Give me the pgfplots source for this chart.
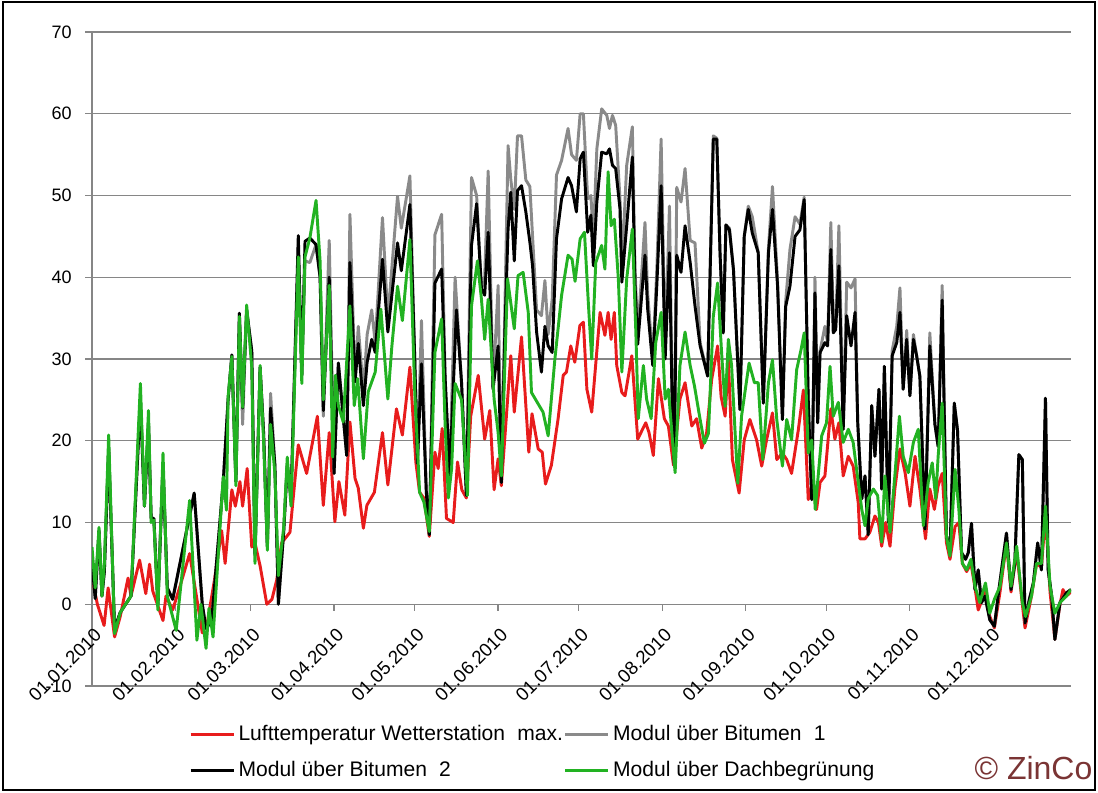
\documentclass[border=0pt]{standalone}
\usepackage{fontspec}
\setmainfont{Liberation Sans}
\usepackage{pgfplots}
\pgfplotsset{compat=1.18}
\definecolor{cred}{RGB}{232,28,28}
\definecolor{cgray}{RGB}{138,138,138}
\definecolor{cgreen}{RGB}{34,178,34}
\definecolor{cgrid}{RGB}{134,134,134}
\definecolor{zinco}{RGB}{122,52,52}
\begin{document}
\begin{tikzpicture}
\useasboundingbox (0,0) rectangle (823.5pt,594pt);
\draw[black, line width=1.2pt] (2.25pt,1.5pt) rectangle (821.25pt,592.5pt);
\begin{axis}[
  at={(69pt,79.5pt)}, anchor=south west,
  scale only axis, width=734.25pt, height=490.5pt,
  xmin=0, xmax=364, ymin=-10, ymax=70,
  axis x line=middle, axis y line=left,
  hide obscured x ticks=false, hide obscured y ticks=false,
  x axis line style={-, cgrid, line width=1pt},
  y axis line style={-, cgrid, line width=1pt},
  ytick={-10,0,10,20,30,40,50,60,70},
  xtick={0,31,59,90,120,151,181,212,243,273,304,334},
  xticklabels={01.01.2010,01.02.2010,01.03.2010,01.04.2010,01.05.2010,01.06.2010,01.07.2010,01.08.2010,01.09.2010,01.10.2010,01.11.2010,01.12.2010},
  ymajorgrids, grid style={cgrid, line width=1pt},
  tick align=outside, major tick length=5pt,
  tick style={cgrid, line width=1pt},
  /pgf/number format/assume math mode=true,
  x tick label style={xshift=1pt, yshift=-12pt, rotate=45, anchor=north east, inner sep=0pt, font=\fontsize{14}{16}\selectfont},
  y tick label style={xshift=-10pt, anchor=east, inner sep=0pt, font=\fontsize{13.5}{16}\selectfont},
  legend columns=2,
  legend style={draw=none, fill=none, at={(0.09908,-0.102)}, anchor=west, inner sep=0pt, row sep=11.5pt,
    font=\fontsize{15.8}{18}\selectfont,
    nodes={inner sep=0pt, text height=12pt, text depth=3.5pt},
    /tikz/every odd column/.append style={column sep=2.5pt}},
  legend cell align=left,
  legend image code/.code={\draw[#1] (0pt,0pt) -- (32.25pt,0pt);},
  every axis plot/.append style={line width=2.2pt, line join=round},
]
\addplot[cred] coordinates {
(0,3.3) (2,0) (4.5,-2.6) (6,2) (8.4,-4) (10.5,-1.5) (13.4,3.2) (14.5,1) (17.7,5.4) (20,1.3) (21.4,4.9) (22.6,1.6) (26.4,-2) (27.5,1) (30,-0.7) (33,2.5) (36.3,6.2) (41,-3.5) (43,-2) (45.5,2.9) (48.2,9) (49.5,5) (52,14) (53.3,12) (55,15) (56,12) (57.7,16.6) (59.4,7) (60.6,7.5) (62.5,4.7) (65,0) (66.9,0.6) (68.7,3) (70.5,7.5) (73.6,8.8) (76.7,19.5) (79.8,16) (83.8,23) (86,12.1) (88.2,21) (90.3,10.1) (91.8,15) (94,10.9) (95.9,22.3) (97.8,15.4) (99,14.2) (100.9,9.3) (102.2,12.1) (105,13.7) (108,21) (110,14.6) (113.2,23.9) (115.4,20.7) (118.2,29) (120.4,17.4) (121.8,13.7) (123.4,13) (125.4,8.3) (127.5,18.6) (128.7,16.6) (130.2,21.5) (131.8,10.5) (134.3,10) (135.9,17.4) (137.5,14) (139.2,13) (140.8,23) (143.6,28) (146,20.2) (147.9,23.7) (149.5,14) (151,17.8) (152.2,14.5) (155.7,30.4) (157,23.5) (159.7,32.7) (162.4,18.6) (163.6,23.3) (165.9,19) (167.4,18.6) (168.6,14.7) (170.8,17) (173.3,22.7) (175.2,28) (176.4,28.4) (178,31.6) (179.5,29.6) (181.4,34.1) (182.7,34.5) (184,26.3) (185.8,23.5) (188.9,35.7) (190.7,32.9) (191.9,35.7) (193,32.4) (194.2,35.7) (195.1,29.2) (197,25.9) (198.2,25.5) (200.7,30.4) (202.9,20.2) (205.9,22.2) (207.1,21) (208.7,18.2) (210.6,27.6) (212.8,22.7) (214.3,21.8) (216.2,17) (218.6,25.1) (220.5,27.1) (223,21.8) (224.8,22.7) (226.7,19.1) (228.5,20.9) (230.4,27.5) (232.6,31.6) (233.9,25.4) (235.4,23) (236.6,29.9) (238.1,17.7) (240.6,13.6) (242.5,20.1) (244.6,22.6) (247.1,20.1) (249,16.9) (250.8,20.1) (253,23.4) (254.6,17.7) (256.7,18.5) (258.3,17.7) (260.1,16) (262.6,21.3) (264.5,26.2) (266.3,12.8) (267.8,14.8) (269.4,11.6) (270.7,14.9) (272.5,15.7) (274.7,23.9) (276.2,20.2) (277.7,22.2) (279.3,15.7) (281.2,18.1) (283,16.9) (284.9,12.4) (285.5,8) (287.4,8) (289.2,8.8) (291.1,10.8) (292.4,10) (293.6,7.1) (295.1,10) (296.7,7.1) (298.5,14.1) (300.4,19) (302.3,16.1) (304.1,12) (306,18.1) (307.8,14.1) (309.9,8) (311.5,14.1) (313.2,11.6) (314.6,14.5) (316.1,16) (317.7,7.5) (319,5.5) (320.9,9.5) (322.3,10) (323.6,5) (325.2,4) (326.8,5) (328.3,2) (329.5,-0.7) (332,1.5) (333.8,-1.5) (335.5,-2.9) (337.6,1.5) (340,7.5) (341.7,1.5) (343.8,6.5) (345.9,0) (346.9,-2.9) (349.3,1) (351.2,5) (353,4.5) (354.5,11) (356.2,1.5) (358,-4.3) (359.9,0) (361,1.8) (362.3,1) (364,1.5)
};
\addlegendentry{\makebox[244pt][l]{Lufttemperatur Wetterstation\hspace{0.3em} max.}}
\addplot[cgray] coordinates {
(0,5) (1.2,0.7) (2.6,9) (3.7,1) (4.6,4) (6.2,19) (8.4,-3) (10.5,-1) (14.5,1) (18,25) (19.5,12) (21,22) (22,10.5) (23,10.5) (24.5,0) (26.4,17) (28,2) (30,0.6) (38,13.6) (41,0) (42.4,-3) (44.5,-2) (48.8,15) (50.6,25) (52,30.5) (53.5,15) (54.8,35.6) (56,22) (57.5,36) (59.4,31) (60.6,6) (62.5,29) (63.8,21) (65.2,7) (66.4,25.8) (68,17) (69.3,0) (71.3,9) (72.6,17) (74,13) (76.7,44) (78,28) (79.2,42) (81,41.8) (83.3,44) (84.8,40) (86,23) (88.2,44.5) (90,16) (91.6,29.5) (94.7,18.2) (95.9,47.7) (97.8,27.2) (99,34) (100.9,26) (102.3,33) (104,36) (105.3,32) (108,47.3) (110,35) (113.6,49.9) (115,46) (118.2,52.4) (120,30) (121,17.2) (122.5,34.7) (124.3,13.7) (125.4,8.5) (127.5,45.2) (130,47.7) (131.3,27.6) (133,15.8) (135,40) (137.4,27.1) (139.2,13.3) (141.1,52.2) (143,50) (144.8,38.6) (146,40) (147.3,53) (149.1,26.3) (151,39) (152.2,14.9) (153.5,36) (154.7,56.1) (155.7,52) (157,48.3) (158.2,57.3) (159.7,57.3) (161.3,51.9) (162.8,51.1) (163.8,45) (165.3,36) (167.1,35.3) (168.4,39.6) (169.6,33) (171.1,37.3) (172.7,52.5) (174.6,54.3) (177,58.2) (178.3,55) (180.1,54.3) (181.5,60) (182.7,60) (184.3,49.6) (185.5,50) (186.4,44.7) (187.7,55.7) (189.5,60.6) (191.4,59.8) (192.4,58.2) (193.5,59.8) (194.7,58.6) (196.3,49.6) (197,41) (198.8,53.7) (200.9,58.4) (201.9,41) (202.9,33) (205.6,46.7) (206.6,38) (208.5,30) (210,41) (211.6,56.9) (213.1,31) (214.7,48.7) (215.9,21) (216.5,17) (217.4,51) (219,49.2) (220.5,53.3) (222.4,44.5) (224.2,44.2) (226.1,32) (228.9,28) (231,57.3) (232.3,57) (233.5,43) (234.7,33.2) (235.7,46.4) (237,46) (238.5,41) (240.9,24) (242.5,45) (244,48.7) (245.5,47.4) (247.7,43) (249.6,24.6) (251.5,43.5) (253,51.1) (254.9,39.5) (256.7,22.6) (257.9,37) (259.5,43.4) (261.4,47.4) (263.2,46.5) (264.8,49.8) (266.3,25) (267.6,12.8) (268.8,40) (269.8,22.2) (270.7,31) (272.5,34) (273.5,32) (274.7,46.7) (275.6,35) (276.5,34) (277.7,46.3) (279.3,21.4) (280.6,39.4) (282.2,38.7) (283.7,39.8) (284.7,22.2) (286.2,12.9) (287.4,15.7) (288.6,8.5) (289.9,24.3) (291.1,18.1) (292.6,26.3) (293.6,14.1) (294.6,29.1) (296.1,10) (297.5,31) (299.2,34) (300.4,38.7) (301.6,26.3) (302.9,33.5) (304.1,25.5) (305.4,33) (306.6,30.4) (307.8,27.9) (309.7,9.2) (311.5,33.2) (313.4,22) (314.6,19.3) (316.1,39) (317.7,8.3) (319,6.3) (320.6,24.6) (321.8,21.3) (323.3,6.3) (324.8,5.5) (325.8,6.3) (327,9.9) (328.3,1.8) (329.5,4.2) (330.7,0.2) (332,1) (333.8,-1.9) (335.5,-2.7) (337.2,1.8) (340,8.7) (341.7,1.8) (343.1,5) (344.6,18.3) (345.9,17.7) (346.9,-2.3) (348.5,0.6) (350,2.6) (351.6,7.5) (353,4.2) (354.5,25.2) (355.5,4.2) (356.8,1) (358,-4.3) (359.9,0.2) (362.3,1.4) (364,1.8)
};
\addlegendentry{Modul über Bitumen\hspace{0.3em} 1}
\addplot[black] coordinates {
(0,5) (1.2,0.7) (2.6,9) (3.7,1) (4.6,4) (6.2,19) (8.4,-3) (10.5,-1) (14.5,1) (18,25) (19.5,12) (21,22) (22,10.5) (23,10.5) (24.5,0) (26.4,17) (28,2) (30,0.6) (38,13.6) (41,0) (42.4,-3) (44.5,-2) (48.8,15) (50.6,25) (52,30.5) (53.5,15) (54.8,35.6) (56,24) (57.5,36) (59.4,31) (60.6,6) (62.5,29) (63.8,21) (65.2,7) (66.4,24) (68,17) (69.3,0) (71.3,9) (72.6,17) (74,13) (76.7,45.1) (78,28) (79.2,44.4) (81,44.8) (83.3,44) (84.8,40) (86,23.7) (88.2,40) (90,16) (91.6,29.5) (94.7,18.2) (95.9,41.8) (97.8,27.2) (99,31.9) (100.9,24.3) (102.3,29.6) (104,32.4) (105.3,30.8) (108,42.2) (110,33.3) (113.6,44.2) (115,40.8) (118.2,48.9) (120,30) (121,17.2) (122.5,29.4) (124.3,13.7) (125.4,8.5) (127.5,39.3) (130,41) (131.3,27.6) (133,15.8) (135.5,36) (137.4,27.1) (139.2,13.3) (141.1,43.9) (143,49) (144.8,38.6) (146,37.8) (147.3,45.5) (149.1,26.3) (151,31.6) (152.2,14.9) (153.5,33.3) (154.7,45.9) (155.7,50.4) (157,42) (158.2,50.6) (159.7,51.2) (161.3,48) (162.8,44.3) (163.8,41.4) (165.3,33.3) (167.1,28.4) (168.4,34) (169.6,31.6) (171.1,30.8) (172.7,44.7) (174.6,49.6) (177,52.2) (178.3,51.2) (180.1,48) (181.5,54.5) (182.7,55.3) (184.3,45.5) (185.5,47.6) (186.4,41.4) (187.7,49.2) (189.5,55.3) (191.4,55.1) (192.4,55.7) (193.5,53.7) (194.7,53.3) (196.3,48.4) (197,39.4) (198.8,46.3) (200.9,54.7) (201.9,39) (202.9,31.8) (205.6,42.7) (206.6,36.1) (208.5,29.2) (210,39) (211.6,51.2) (213.1,30) (214.7,43) (215.9,21) (216.5,17) (217.4,42.7) (219,40.6) (220.5,46.3) (222.4,41.8) (224.2,36.5) (226.1,31.6) (228.9,27.9) (231,56.9) (232.3,56.9) (233.5,43) (234.7,33.2) (235.7,46.4) (237,45.8) (238.5,40.9) (240.9,23.8) (242.5,45) (244,48.3) (245.5,45.4) (247.7,43) (249.6,24.6) (251.5,43) (253,48.3) (254.9,38.9) (256.7,22.6) (257.9,36.4) (259.5,38.9) (261.4,45) (263.2,45.8) (264.8,49.5) (266.3,25) (267.6,12.8) (268.8,38.1) (269.8,22.2) (270.7,30.8) (272.5,32) (273.5,31.6) (274.7,43.4) (275.6,33.2) (276.5,33.6) (277.7,41.4) (279.3,21.4) (280.6,35.3) (282.2,31.6) (283.7,35.7) (284.7,22.2) (286.2,12.9) (287.4,15.7) (288.6,8.5) (289.9,24.3) (291.1,18.1) (292.6,26.3) (293.6,14.1) (294.6,29.1) (296.1,10) (297.5,30.4) (299.2,32) (300.4,35.7) (301.6,26.3) (302.9,32.4) (304.1,25.5) (305.4,32.4) (306.6,30.4) (307.8,27.9) (309.7,9.2) (311.5,31.6) (313.4,22) (314.6,19.3) (316.1,37.2) (317.7,8.3) (319,6.3) (320.6,24.6) (321.8,21.3) (323.3,6.3) (324.8,5.5) (325.8,6.3) (327,9.9) (328.3,1.8) (329.5,4.2) (330.7,0.2) (332,1) (333.8,-1.9) (335.5,-2.7) (337.2,1.8) (340,8.7) (341.7,1.8) (343.1,5) (344.6,18.3) (345.9,17.7) (346.9,-2.3) (348.5,0.6) (350,2.6) (351.6,7.5) (353,4.2) (354.5,25.2) (355.5,4.2) (356.8,1) (358,-4.3) (359.9,0.2) (362.3,1.4) (364,1.8)
};
\addlegendentry{\makebox[244pt][l]{Modul über Bitumen\hspace{0.3em} 2}}
\addplot[cgreen] coordinates {
(0,7) (1.2,2) (2.6,9.4) (3.7,1) (4.6,5) (6.2,20.7) (8.4,-3.6) (10.5,-1) (14.5,1) (18,27) (19.5,12) (21,23.7) (22,10) (23,10.3) (24.5,-0.7) (26.4,18.5) (28,1) (31.3,-3.2) (36.3,12.7) (39,-4.4) (40.5,0) (42.4,-5.4) (43.5,-0.5) (45,-4) (48.8,15.6) (50,11.5) (50.6,25.4) (52,30.3) (53.5,14.5) (54.8,35.2) (56,24.1) (57.5,36.6) (59.4,29) (60.6,5) (62.5,29.2) (63.8,20) (65.2,6.6) (66.4,22) (68,16) (69.3,3.5) (71.3,9.5) (72.6,18) (74,12) (76.7,42.5) (78,27) (79.2,42.5) (81,44.8) (83.3,49.4) (84.8,42) (86,25) (88.2,39) (89.5,18) (90.5,28) (91.6,24.3) (93.4,22.3) (95.9,36.5) (97.5,24.3) (98.8,27.6) (100.9,17.8) (102.7,26) (105.3,28.4) (107.4,36.1) (110,25.1) (111.5,31.6) (113.6,38.9) (115.4,34.7) (118.2,44.6) (120,26) (121.8,13.7) (123.4,12.5) (125.4,8.9) (127.5,30.8) (130,34.9) (131.3,21.9) (132.5,13) (133.7,16.6) (135,27) (137.4,25) (139.6,13.3) (141.1,36.5) (143.3,42) (144.8,37.3) (146,32.4) (147.3,37.3) (149.5,25.1) (151,21) (152.2,15.7) (154.5,39.8) (157,33.7) (158.4,40.2) (160.3,40.6) (162.2,35.7) (163.4,25.9) (165.9,24.5) (167.7,23.5) (169.6,20.6) (172.1,30) (174.6,37.8) (177,42.7) (178.5,42.2) (179.6,39.5) (181.5,44.7) (183.1,45.5) (184.6,36.5) (185.8,30) (187.3,41.8) (189.5,43.9) (190.7,41) (191.9,52.9) (193,46.3) (194.2,47.1) (195.7,39.8) (197,28.4) (198.8,39.8) (200.9,45.9) (202.2,33.3) (203.1,22.7) (205,29.2) (206.2,25.1) (207.9,22.7) (209.6,32) (211.6,35.7) (213.1,25.1) (214.3,26.3) (216.8,16.1) (218.6,29.2) (220.5,33.3) (222.4,29.2) (224,26.7) (226.1,22.6) (227.7,19.7) (229.2,20.9) (231,35.2) (232.6,39.3) (234.1,30.7) (235.4,24.2) (236.6,32.4) (237.8,29.2) (240.1,14.8) (241.5,23) (244.3,29.5) (246.3,27.1) (247.7,27.1) (249.4,17.7) (251.5,27.1) (253,29.9) (254.6,22.6) (256.7,16.9) (258.3,22.6) (260.1,20.1) (262,28.7) (263.6,31.1) (264.8,33.2) (266.3,18.5) (267.6,20.1) (268.9,11.6) (271.3,20.6) (273.1,22.2) (274.4,29.1) (275.6,23) (277.5,24.7) (279.3,19.8) (281.2,21.4) (283,19.8) (284.9,14.9) (286.2,11.6) (287.4,9.6) (288.6,12.9) (290.5,14.1) (292.1,13.3) (293.6,7.6) (294.8,15.7) (296.7,8.8) (298.5,15.7) (300.2,23) (301.6,18.1) (303.5,16.1) (305.4,19.8) (307.2,21.4) (309.1,9.6) (310.9,14.9) (312.4,17.3) (313.7,12.9) (314.6,18.1) (316.1,24.6) (317.7,8.3) (319,5.9) (320.9,16.5) (322.3,11.6) (323.6,5) (325.2,4.2) (326.8,5.5) (328.3,2.2) (330.1,0.2) (332.2,2.6) (333.8,-1.1) (335.5,0.6) (337.6,2.2) (340,7.5) (341.7,2.2) (343.8,7.1) (345.9,0.2) (347.1,-1.5) (349.3,1) (351.2,5) (353,5) (354.5,12) (356.2,2.2) (358,-1.1) (359.9,0.2) (362.3,1) (364,1.8)
};
\addlegendentry{Modul über Dachbegrünung}
\end{axis}
\node[anchor=east, inner sep=0pt, text=zinco, font=\fontsize{24}{27}\selectfont] at (819.5pt,18pt) {© ZinCo};
\end{tikzpicture}
\end{document}
